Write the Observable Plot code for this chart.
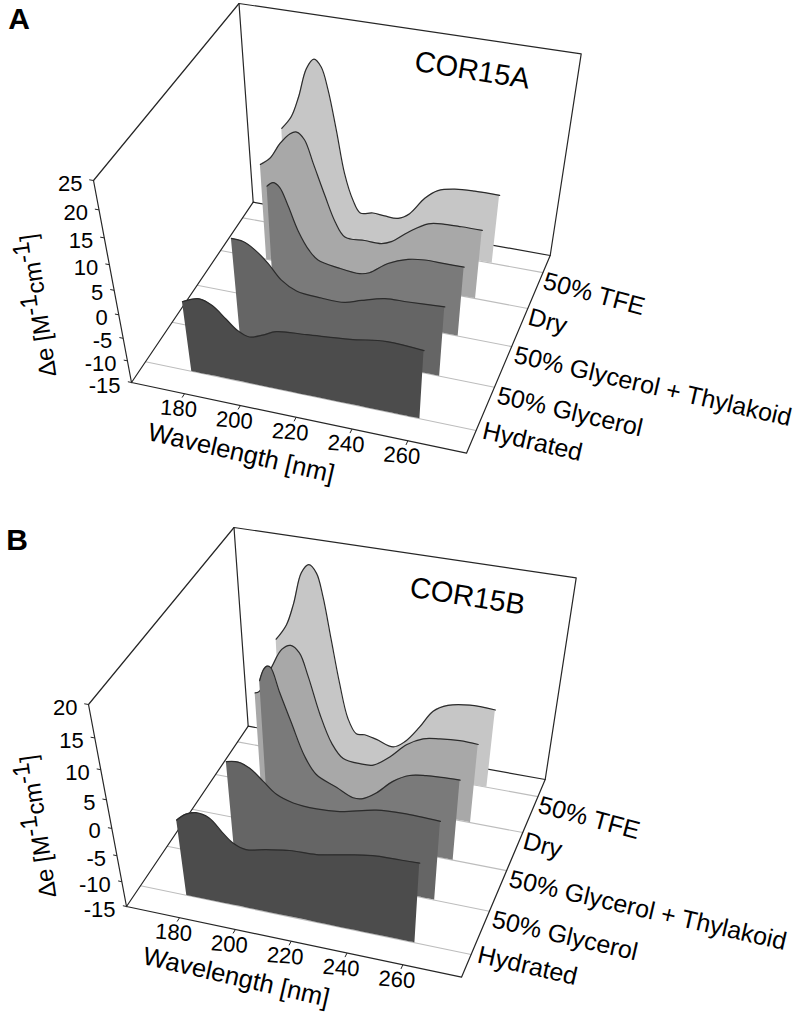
<!DOCTYPE html>
<html>
<head>
<meta charset="utf-8">
<style>
html,body{margin:0;padding:0;background:#fff}
svg{display:block}
</style>
<script src="https://cdn.jsdelivr.net/npm/d3@7"></script>
<script src="https://cdn.jsdelivr.net/npm/@observablehq/plot@0.6"></script>
</head>
<body>
<div id="chart"></div>
<script>
// ---------- categories and ticks ----------
const conditions = ["Hydrated", "50% Glycerol", "50% Glycerol + Thylakoid", "Dry", "50% TFE"];
const wavelengthTicks = [180, 200, 220, 240, 260];
const deltaTicksA = [-15, -10, -5, 0, 5, 10, 15, 20, 25];
const deltaTicksB = [-15, -10, -5, 0, 5, 10, 15, 20];

// ---------- COR15A: wavelength (nm) and delta-epsilon per condition ----------
const aHydratedWl = [177.8,183.8,188.1,192.4,196.1,200.1,204.9,209.7,220.2,235.2,247.8,260.6];
const aHydratedDe = [0.4,1.7,0.8,-1.5,-3.5,-4.4,-3.4,-2.1,-1.5,-0.7,0.3,-0.1];
const aGlycerolWl = [186.4,190.4,194.2,198.6,203,208.2,217,225.3,231.3,239.5,247.7,260.6];
const aGlycerolDe = [6.1,5.9,4.7,2.4,-0.6,-2.3,-2.8,-2.8,-1.7,-0.4,-0.2,0.2];
const aThylakoidWl = [190.4,192.6,194.8,197.5,200.7,204.6,207.6,215,222.9,226.5,233.2,240.3,246.3,253.5,260.6];
const aThylakoidDe = [9.4,10.3,9.6,6.2,1.5,-2.3,-3.9,-4.8,-5.2,-4.6,-1.9,-0.3,0.2,0.2,0.2];
const aDryWl = [179,182.7,186.6,190.4,192.7,195.4,198.3,202.3,205.9,209.6,217.2,223.5,227.2,233.4,240.7,246.7,252.9,260.6];
const aDryDe = [5.7,7.3,10.5,12.7,13.2,12,7.7,1.6,-3.5,-6.5,-6.5,-6.5,-5.7,-3,-0.5,0,0.1,0.1];
const aTfeWl = [178.5,182.2,185.2,188.3,191.1,193.6,195.9,198.8,201.8,205,207.9,212.8,217.4,222.7,227.1,232.6,237.4,243.7,251.2,260.7];
const aTfeDe = [6.3,8.9,13,18.4,20.3,19.1,15.2,7.7,-0.9,-6.3,-8.9,-8.4,-8.6,-8.6,-7.1,-3.2,-1.1,-0.2,0.1,0.1];

// ---------- COR15B ----------
const bHydratedWl = [177.8,181.3,184.8,189.2,193.3,196.5,201,208,216.2,225.4,236.8,246,254,260.6];
const bHydratedDe = [-0.5,0.9,1.5,1,-1.2,-2.7,-3.5,-2.8,-2.1,-1.9,-0.8,-0.1,0,0.1];
const bGlycerolWl = [186.4,190.5,194.4,198.8,203.2,209,217.2,225.4,238.2,247.5,260.6];
const bGlycerolDe = [3.6,3.9,3.2,1.3,-0.6,-1.6,-1.9,-1.6,-0.1,0.2,0];
const bThylakoidWl = [190.2,191.8,193,194.2,196.9,200.5,204.8,208.9,216.2,222.3,226,230.8,236.7,242.6,248.5,260.6];
const bThylakoidDe = [11.2,13.1,13.7,13.6,9.8,5.1,-0.4,-3.4,-5.1,-6.5,-6.3,-4.8,-2.1,-0.5,0,0.3];
const bDryWl = [178.8,180.4,185.4,189.3,192.5,195.5,198.4,202.4,206.6,210.9,217.2,222.3,228.4,234.4,240.4,246.5,253.8,260.6];
const bDryDe = [2.3,2.7,7.3,10.5,11.4,10.4,6.7,0.4,-4.5,-7,-7.4,-7.2,-5.1,-2.3,-0.7,-0.2,0.1,0];
const bTfeWl = [178.5,182.5,185.4,188.5,191.2,193.8,196,198.8,201.8,205,208.3,211.5,216.2,222.8,227.2,232.6,237.4,242.8,250.9,260.6];
const bTfeDe = [5.9,8.6,12.3,17.3,18.7,17.6,14.1,7.3,0,-6.3,-9,-8.9,-9.4,-10.3,-8.9,-5.6,-2.2,-0.7,0,-0.1];

const fills = ["#4c4c4c", "#656565", "#7a7a7a", "#a8a8a8", "#c6c6c6"];
const font = "'Liberation Sans', Arial, sans-serif";

// ---------- the 3D box: camera calibration of the axes ----------
const wlMin = 161, wlMax = 281, depthMin = -0.5, depthMax = 4.5;
const corner = {
  fl0:[131,382], fr0:[466,452.7], br0:[549.7,255], bl0:[252.7,201.7],
  fl1:[93,180],  fr1:[487,247],   br1:[580.7,53.3], bl1:[238.5,3]
};
const lerp = (a, b, t) => [a[0] + (b[0] - a[0]) * t, a[1] + (b[1] - a[1]) * t];
const persp = (t, k) => k * t / (1 + (k - 1) * t);

function makeProject(panel) {
  return function (wl, depth, de) {
    const u = (wl - wlMin) / (wlMax - wlMin);
    const v = persp((depth - depthMin) / (depthMax - depthMin), 1.17);
    const w = persp((de - panel.min) / (panel.max - panel.min), 0.84);
    const floor = lerp(lerp(corner.fl0, corner.fr0, u), lerp(corner.bl0, corner.br0, u), v);
    const top = lerp(lerp(corner.fl1, corner.fr1, u), lerp(corner.bl1, corner.br1, u), v);
    const p = lerp(floor, top, w);
    return [p[0] + panel.ox, p[1] + panel.oy];
  };
}

function panelMarks(panel) {
  const P = makeProject(panel);
  const marks = [];
  const lo = panel.min, hi = panel.max;
  const seg = (pts, stroke, strokeWidth) =>
    Plot.line(pts, {x: d => d[0], y: d => d[1], stroke, strokeWidth});

  // floor grid lines, one per condition
  conditions.forEach((_, i) =>
    marks.push(seg([P(wlMin, i, lo), P(wlMax, i, lo)], "#bdbdbd", 1.1)));

  // box frame
  const frame = "#262626";
  marks.push(seg([P(wlMin, depthMin, hi), P(wlMin, depthMin, lo), P(wlMax, depthMin, lo), P(wlMax, depthMax, lo),
                  P(wlMin, depthMax, lo), P(wlMin, depthMin, lo)], frame, 1.2));
  marks.push(seg([P(wlMin, depthMin, hi), P(wlMin, depthMax, hi), P(wlMax, depthMax, hi), P(wlMax, depthMax, lo)], frame, 1.2));
  marks.push(seg([P(wlMin, depthMax, hi), P(wlMin, depthMax, lo)], frame, 1.2));

  // ticks
  const xt = wavelengthTicks.map(t => ({a: P(t, depthMin, lo), b: P(t, depthMin - 0.09, lo), t}));
  const yt = panel.ticks.map(t => ({a: P(wlMin, depthMin, t), b: P(wlMin - 1.3, depthMin, t), t}));
  for (const set of [xt, yt]) marks.push(Plot.link(set, {
    x1: d => d.a[0], y1: d => d.a[1], x2: d => d.b[0], y2: d => d.b[1], stroke: frame, strokeWidth: 1, markerEnd: null
  }));

  // ridges, back to front
  for (let i = conditions.length - 1; i >= 0; i--) {
    const rows = panel.series[i].wl.map((wl, j) => ({
      top: P(wl, i, panel.series[i].de[j]),
      base: P(wl, i, lo)
    }));
    marks.push(Plot.area(rows, {
      x1: d => d.top[0], y1: d => d.top[1], x2: d => d.base[0], y2: d => d.base[1],
      fill: fills[i], curve: "catmull-rom"
    }));
    marks.push(Plot.line(rows, {
      x: d => d.top[0], y: d => d.top[1], stroke: "#2b2b2b", strokeWidth: 1.2, curve: "catmull-rom"
    }));
  }

  // tick labels
  marks.push(Plot.text(xt, {
    x: d => d.a[0], y: d => d.a[1], text: d => String(d.t), dx: -6, dy: 15, rotate: 4,
    fontSize: 22, fontFamily: font, fill: "#000"
  }));
  marks.push(Plot.text(yt, {
    x: d => d.a[0], y: d => d.a[1], text: d => String(d.t), dx: -11, dy: 3, textAnchor: "end",
    fontSize: 22, fontFamily: font, fill: "#000"
  }));
  // condition labels along the right floor edge
  marks.push(Plot.text(conditions.map((c, i) => ({c, i, p: P(wlMax, i, lo)})), {
    x: d => d.p[0] + (d.i === 0 ? 7 : d.i >= 3 ? 1 : 3), y: d => d.p[1] + (d.i === 0 ? 0 : 8), text: "c",
    rotate: d => (d.i >= 3 ? 15 : 13),
    textAnchor: "start", fontSize: 25, fontFamily: font, fill: "#000"
  }));
  // axis titles, panel title, panel letter
  const xTitle = P(220, depthMin, lo);
  marks.push(Plot.text(["Wavelength [nm]"], {
    x: () => xTitle[0], y: () => xTitle[1], text: d => d, dx: -55, dy: 36, rotate: 13,
    fontSize: 25.5, fontFamily: font, fill: "#000"
  }));
  marks.push(Plot.text([panel.yTitle], {
    x: () => panel.yTitleAt[0], y: () => panel.yTitleAt[1], text: d => d, rotate: -98,
    fontSize: 24, fontFamily: font, fill: "#000"
  }));
  marks.push(Plot.text([panel.name], {
    x: () => panel.nameAt[0], y: () => panel.nameAt[1], text: d => d, rotate: 9,
    fontSize: 29, fontFamily: font, fill: "#000"
  }));
  marks.push(Plot.text([panel.letter], {
    x: () => panel.letterAt[0], y: () => panel.letterAt[1], text: d => d,
    fontSize: 30, fontWeight: "bold", fontFamily: font, fill: "#000"
  }));
  return marks;
}

const yTitle = "\u0394e [M-1cm-1]";
const panelA = {
  letter: "A", name: "COR15A", min: -15, max: 25, ticks: deltaTicksA, ox: 0, oy: 0, yTitle,
  letterAt: [18.5, 19], nameAt: [471.7, 70], yTitleAt: [38, 305],
  series: [
    {wl: aHydratedWl, de: aHydratedDe}, {wl: aGlycerolWl, de: aGlycerolDe}, {wl: aThylakoidWl, de: aThylakoidDe},
    {wl: aDryWl, de: aDryDe}, {wl: aTfeWl, de: aTfeDe}
  ]
};
const panelB = {
  letter: "B", name: "COR15B", min: -15, max: 20, ticks: deltaTicksB, ox: -5, oy: 524, yTitle,
  letterAt: [16.5, 539.5], nameAt: [467, 596], yTitleAt: [38, 826],
  series: [
    {wl: bHydratedWl, de: bHydratedDe}, {wl: bGlycerolWl, de: bGlycerolDe}, {wl: bThylakoidWl, de: bThylakoidDe},
    {wl: bDryWl, de: bDryDe}, {wl: bTfeWl, de: bTfeDe}
  ]
};

const chart = Plot.plot({
  width: 793, height: 1016, margin: 0,
  x: {type: "linear", domain: [0, 793], range: [0, 793], axis: null},
  y: {type: "linear", domain: [0, 1016], range: [0, 1016], axis: null},
  style: {background: "#fff", fontFamily: font},
  marks: [...panelMarks(panelA), ...panelMarks(panelB)]
});
document.getElementById("chart").appendChild(chart);

// raise the exponents of the unit label, keeping it one text element
d3.select(chart).selectAll("text").filter(function () { return this.textContent === yTitle; }).each(function () {
  const t = d3.select(this);
  t.text(null);
  [["\u0394e [M", 0], ["-1", -0.36], ["cm", 0.36], ["-1", -0.36], ["]", 0.36]].forEach(([s, dy]) =>
    t.append("tspan").attr("dy", dy + "em").text(s));
});
</script>
</body>
</html>
